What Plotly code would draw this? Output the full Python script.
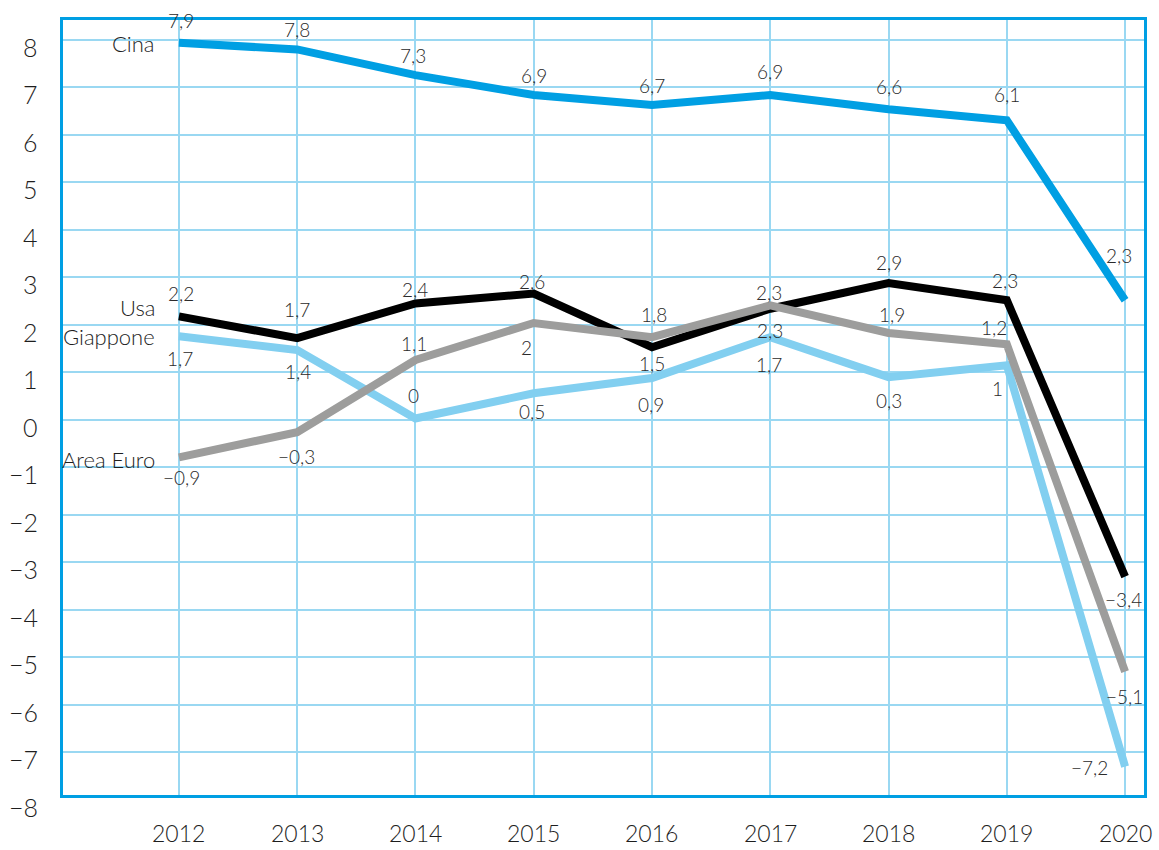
import plotly.graph_objects as go

years = [2012, 2013, 2014, 2015, 2016, 2017, 2018, 2019, 2020]

cina = [7.94, 7.80, 7.26, 6.84, 6.63, 6.84, 6.54, 6.31, 2.52]
usa = [2.18, 1.72, 2.45, 2.66, 1.53, 2.34, 2.88, 2.52, -3.30]
giappone = [1.76, 1.47, 0.03, 0.56, 0.88, 1.74, 0.90, 1.15, -7.30]
euro = [-0.79, -0.26, 1.26, 2.04, 1.74, 2.41, 1.83, 1.59, -5.30]

cina_lbl = ["7,9", "7,8", "7,3", "6,9", "6,7", "6,9", "6,6", "6,1", "2,3"]
usa_lbl = ["2,2", "1,7", "2,4", "2,6", "1,5", "2,3", "2,9", "2,3", "−3,4"]
giap_lbl = ["1,7", "1,4", "0", "0,5", "0,9", "1,7", "0,3", "1", "−7,2"]
euro_lbl = ["−0,9", "−0,3", "1,1", "2", "1,8", "2,3", "1,9", "1,2", "−5,1"]

y_ticks = [8, 7, 6, 5, 4, 3, 2, 1, 0, -1, -2, -3, -4, -5, -6, -7, -8]

# label placement (pixel offsets from each point)
cina_dx = [2, 0, -2, 0, 0, 0, 0, 0, -6]
cina_dy = [22, 20, 20, 20, 20, 24, 23, 26, 45]
usa_dx = [2, 0, 0, -2, 0, 0, 0, -2, -2]
usa_dy = [23, 29, 14, 12, -16, -22, 21, 20, -23]
giap_dx = [1, 1, -2, -2, -1, -1, 0, -9, -36]
giap_dy = [-22, -21, 23, -18, -26, -27, -23, -23, -1]
euro_dx = [3, -1, -1, -7, 2, -1, 3, -13, -1]
euro_dy = [-20, -24, 17, -25, 23, 13, 18, 17, -25]

FONT = "Lato"
TXT = "#2a2a2a"
Y_MIN, Y_MAX = -7.9, 8.42

series = [
    ("Cina", cina, cina_lbl, cina_dx, cina_dy, "#009FE3", -1),
    ("Giappone", giappone, giap_lbl, giap_dx, giap_dy, "#82CFF0", 0),
    ("Usa", usa, usa_lbl, usa_dx, usa_dy, "#000000", 9),
    ("Area Euro", euro, euro_lbl, euro_dx, euro_dy, "#9D9D9C", -2),
]

fig = go.Figure()
annotations = []
for name, vals, lbls, dxs, dys, color, name_dy in series:
    fig.add_trace(go.Scatter(
        x=years, y=vals, mode="lines", name=name,
        line=dict(color=color, width=8), hoverinfo="skip",
    ))
    for x, v, t, dx, dy in zip(years, vals, lbls, dxs, dys):
        annotations.append(dict(
            x=x, y=v, xref="x", yref="y", text=t, showarrow=False,
            xshift=dx, yshift=dy, xanchor="center", yanchor="middle",
            font=dict(family=FONT, size=19, color=TXT, weight=300),
        ))
    annotations.append(dict(
        x=years[0], y=vals[0], xref="x", yref="y", text=name, showarrow=False,
        xshift=-22, yshift=name_dy, xanchor="right", yanchor="middle",
        font=dict(family=FONT, size=22, color="#1e1e1e", weight=300),
    ))

for t in y_ticks:
    annotations.append(dict(
        x=0, y=(t - Y_MIN) / (Y_MAX - Y_MIN), xref="paper", yref="paper",
        text=("−" + str(-t)) if t < 0 else str(t),
        showarrow=False, xshift=-23, yshift=-7, xanchor="right", yanchor="middle",
        font=dict(family=FONT, size=25, color="#1e1e1e", weight=300),
    ))
for yr in years:
    annotations.append(dict(
        x=yr, y=0, xref="x", yref="paper", text=str(yr), showarrow=False,
        yshift=-38, xanchor="center", yanchor="middle",
        font=dict(family=FONT, size=23, color="#1e1e1e", weight=300),
    ))

fig.update_layout(
    width=1159, height=850,
    margin=dict(l=63, r=12, t=20, b=55),
    paper_bgcolor="white", plot_bgcolor="white",
    showlegend=False,
    annotations=annotations,
    xaxis=dict(
        range=[2011.02, 2020.16], dtick=1, tick0=2012,
        showgrid=True, gridcolor="#9AD8F2", gridwidth=2,
        showticklabels=False, zeroline=False,
        showline=True, mirror=True, linecolor="#009FE3", linewidth=3,
        fixedrange=True,
    ),
    yaxis=dict(
        range=[Y_MIN, Y_MAX], dtick=1, tick0=0,
        showgrid=True, gridcolor="#9AD8F2", gridwidth=2,
        showticklabels=False, zeroline=False,
        showline=True, mirror=True, linecolor="#009FE3", linewidth=3,
        fixedrange=True,
    ),
)

fig.write_html(
    "out.html",
    config={"displayModeBar": False},
    post_script="document.body.style.margin='0';document.body.style.padding='0';",
)
